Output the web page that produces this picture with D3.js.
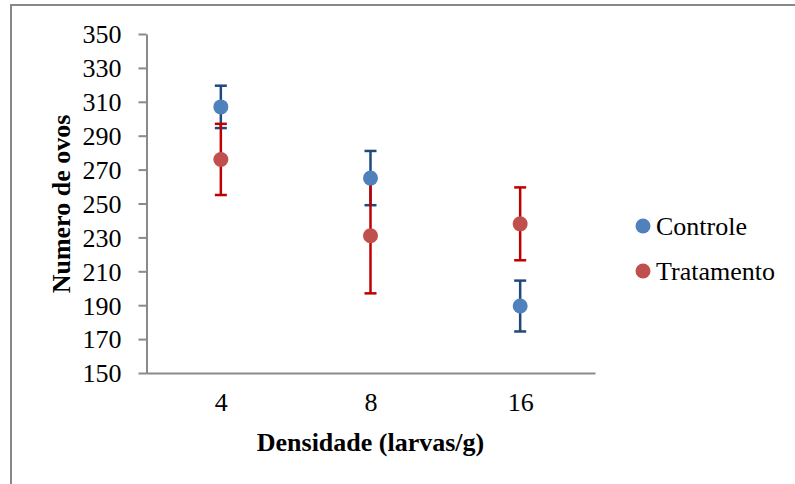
<!DOCTYPE html>
<html>
<head>
<meta charset="utf-8">
<script src="https://cdn.jsdelivr.net/npm/d3@7"></script>
<style>
html,body{margin:0;padding:0;background:#fff;}
svg{display:block;}
text{font-family:"Liberation Serif","Times New Roman",serif;fill:#000;}
</style>
</head>
<body>
<svg id="chart" width="795" height="484"></svg>
<script>
const categories = ["4", "8", "16"];
const controle = [307, 265, 189.5];
const controleErr = [12.5, 16, 15];
const tratamento = [276, 231, 238];
const tratamentoErr = [21, 34, 21.5];
const yTicks = [150, 170, 190, 210, 230, 250, 270, 290, 310, 330, 350];
const seriesNames = ["Controle", "Tratamento"];

const svg = d3.select("#chart");
const W = 795, H = 484;

// outer frame
svg.append("rect").attr("x", 11).attr("y", 5).attr("width", 800).attr("height", 500)
  .attr("fill", "none").attr("stroke", "#888").attr("stroke-width", 2);

const x = d3.scalePoint().domain(categories).range([146, 595]).padding(0.5);
const y = d3.scaleLinear().domain([150, 350]).range([373, 34]);

const axisColor = "#8a8a8a";

// y axis
const yAxis = svg.append("g").attr("transform", "translate(146.5,0)")
  .call(d3.axisLeft(y).tickValues(yTicks).tickSize(8).tickPadding(17).tickSizeOuter(0));
yAxis.select(".domain").attr("stroke", axisColor).attr("stroke-width", 2);
yAxis.selectAll(".tick line").attr("stroke", axisColor).attr("stroke-width", 2);
yAxis.selectAll(".tick text").attr("font-size", 26).attr("font-family", "Liberation Serif").attr("fill", "#000").attr("dy", "0.34em");

// x axis
const xAxis = svg.append("g").attr("transform", "translate(0,373)")
  .call(d3.axisBottom(x).tickSize(0).tickPadding(20).tickSizeOuter(0));
xAxis.select(".domain").attr("stroke", axisColor).attr("stroke-width", 2);
xAxis.selectAll(".tick text").attr("font-size", 26).attr("font-family", "Liberation Serif").attr("fill", "#000").attr("dy", "0.71em");

// axis titles
svg.append("text").attr("x", x("8")).attr("y", 451).attr("text-anchor", "middle")
  .attr("font-size", 26).attr("font-weight", "bold").text("Densidade (larvas/g)");
svg.append("text").attr("transform", "translate(70,204) rotate(-90)").attr("text-anchor", "middle")
  .attr("font-size", 26).attr("font-weight", "bold").text("Numero de ovos");

const series = [
  {name: seriesNames[0], vals: controle, errs: controleErr, fill: "#4F81BD", err: "#1F497D"},
  {name: seriesNames[1], vals: tratamento, errs: tratamentoErr, fill: "#C0504D", err: "#C00000"}
];

// error bars first
series.forEach(s => {
  const g = svg.append("g");
  categories.forEach((c, i) => {
    const cx = x(c), v = s.vals[i], e = s.errs[i];
    g.append("line").attr("x1", cx).attr("x2", cx).attr("y1", y(v + e)).attr("y2", y(v - e))
      .attr("stroke", s.err).attr("stroke-width", 2.5);
    [v + e, v - e].forEach(t => {
      g.append("line").attr("x1", cx - 6).attr("x2", cx + 6).attr("y1", y(t)).attr("y2", y(t))
        .attr("stroke", s.err).attr("stroke-width", 2.5);
    });
  });
});
// markers
series.forEach(s => {
  svg.append("g").selectAll("circle").data(s.vals).join("circle")
    .attr("cx", (d, i) => x(categories[i])).attr("cy", d => y(d)).attr("r", 7.5)
    .attr("fill", s.fill);
});

// legend
const leg = svg.append("g");
series.forEach((s, i) => {
  const ly = 226 + i * 45;
  leg.append("circle").attr("cx", 643).attr("cy", ly).attr("r", 7.5).attr("fill", s.fill);
  leg.append("text").attr("x", 656).attr("y", ly).attr("dy", "0.33em").attr("font-size", 26).text(s.name);
});
</script>
</body>
</html>
